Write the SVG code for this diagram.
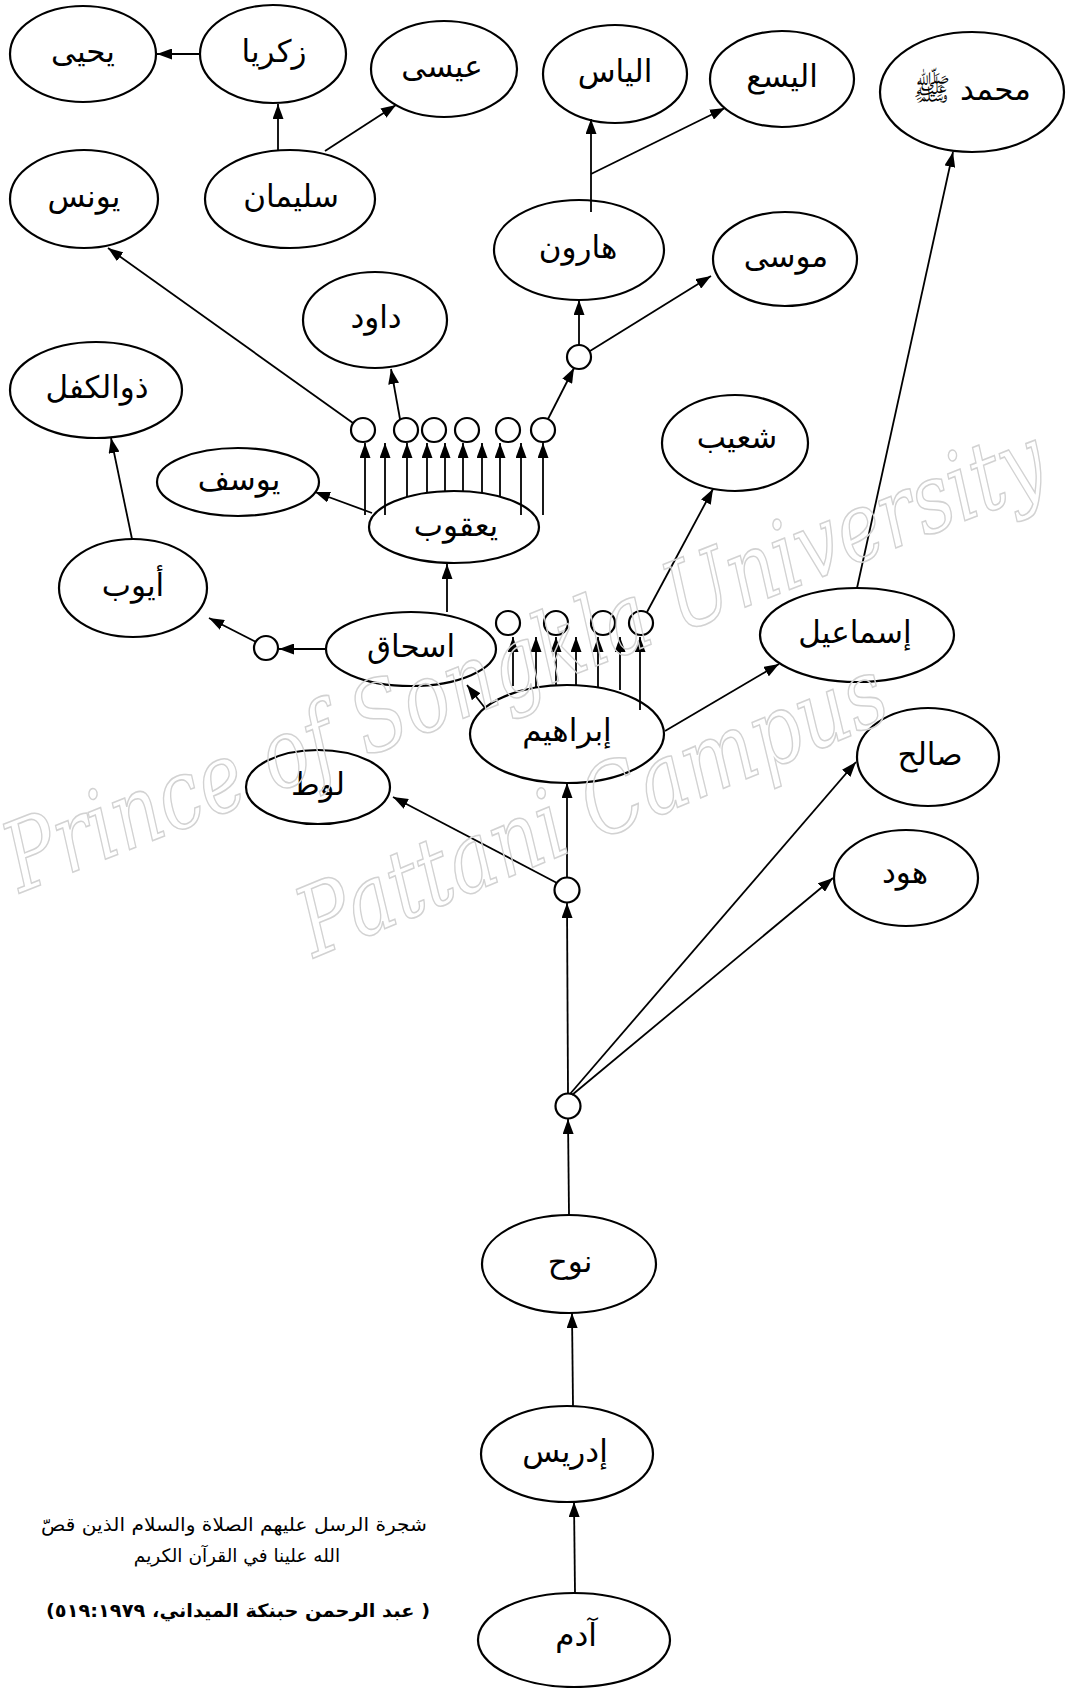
<svg xmlns="http://www.w3.org/2000/svg" width="1073" height="1688" viewBox="0 0 1073 1688">
<style>
  .bg{fill:#ffffff}
  .node ellipse{fill:#ffffff;stroke:#000;stroke-width:2.2}
  .node text{font-family:"DejaVu Sans",sans-serif;font-size:31px;text-anchor:middle;fill:#000}
  .dot circle{fill:#ffffff;stroke:#000;stroke-width:2.2}
  .edges line{stroke:#000;stroke-width:1.8;fill:none}
  .edges .a{marker-end:url(#arr)}
  .cap{font-family:"DejaVu Sans",sans-serif;font-size:18.5px;text-anchor:middle;fill:#000}
  .wm{font-family:"DejaVu Serif",serif;font-style:italic;font-size:96px;fill:none;stroke:#d2d2d2;stroke-width:1.6}
</style>
<defs>
  <marker id="arr" markerUnits="userSpaceOnUse" markerWidth="15" markerHeight="11" refX="15" refY="5.5" orient="auto">
    <path d="M0,0 L15,5.5 L0,11 Z" fill="#000"/>
  </marker>
</defs>
<rect class="bg" x="0" y="0" width="1073" height="1688"/>

<g id="nodes">
  <g id="yahya" class="node"><ellipse cx="83" cy="54" rx="73" ry="48"/><text x="83" y="62">يحيى</text></g>
  <g id="zakariya" class="node"><ellipse cx="273" cy="54" rx="73" ry="49"/><text x="274" y="62">زكريا</text></g>
  <g id="isa" class="node"><ellipse cx="444" cy="69" rx="73" ry="48"/><text x="442" y="77">عيسى</text></g>
  <g id="ilyas" class="node"><ellipse cx="615" cy="74" rx="72" ry="49"/><text x="615" y="82">الياس</text></g>
  <g id="alyasa" class="node"><ellipse cx="782" cy="79" rx="72" ry="48"/><text x="782" y="87">اليسع</text></g>
  <g id="muhammad" class="node"><ellipse cx="972" cy="92" rx="92" ry="60"/><text x="972" y="100">محمد ﷺ</text></g>
  <g id="yunus" class="node"><ellipse cx="84" cy="199" rx="74" ry="49"/><text x="84" y="207">يونس</text></g>
  <g id="sulayman" class="node"><ellipse cx="290" cy="199" rx="85" ry="49"/><text x="291" y="207">سليمان</text></g>
  <g id="harun" class="node"><ellipse cx="579" cy="250" rx="85" ry="50"/><text x="578" y="258">هارون</text></g>
  <g id="musa" class="node"><ellipse cx="785" cy="259" rx="72" ry="47"/><text x="786" y="267">موسى</text></g>
  <g id="dawud" class="node"><ellipse cx="375" cy="320" rx="72" ry="48"/><text x="376" y="328">داود</text></g>
  <g id="dhulkifl" class="node"><ellipse cx="96" cy="390" rx="86" ry="48"/><text x="97" y="398">ذوالكفل</text></g>
  <g id="yusuf" class="node"><ellipse cx="238" cy="482" rx="81" ry="34"/><text x="239" y="490">يوسف</text></g>
  <g id="yaqub" class="node"><ellipse cx="454" cy="527" rx="85" ry="36"/><text x="456" y="536">يعقوب</text></g>
  <g id="shuayb" class="node"><ellipse cx="735" cy="443" rx="73" ry="48"/><text x="737" y="448">شعيب</text></g>
  <g id="ayyub" class="node"><ellipse cx="133" cy="588" rx="74" ry="49"/><text x="133" y="596">أيوب</text></g>
  <g id="ishaq" class="node"><ellipse cx="411" cy="649" rx="85" ry="37"/><text x="411" y="657">اسحاق</text></g>
  <g id="ismail" class="node"><ellipse cx="857" cy="635" rx="97" ry="47"/><text x="855" y="643">إسماعيل</text></g>
  <g id="ibrahim" class="node"><ellipse cx="567" cy="734" rx="97" ry="49"/><text x="567" y="741">إبراهيم</text></g>
  <g id="salih" class="node"><ellipse cx="928" cy="757" rx="71" ry="49"/><text x="930" y="765">صالح</text></g>
  <g id="lut" class="node"><ellipse cx="318" cy="787" rx="72" ry="37"/><text x="318" y="795">لوط</text></g>
  <g id="hud" class="node"><ellipse cx="906" cy="878" rx="72" ry="48"/><text x="905" y="883">هود</text></g>
  <g id="nuh" class="node"><ellipse cx="569" cy="1264" rx="87" ry="49"/><text x="570" y="1272">نوح</text></g>
  <g id="idris" class="node"><ellipse cx="567" cy="1454" rx="86" ry="48"/><text x="565" y="1462">إدريس</text></g>
  <g id="adam" class="node"><ellipse cx="574" cy="1640" rx="96" ry="47"/><text x="576" y="1646">آدم</text></g>

  <g id="j-harun" class="dot"><circle cx="579" cy="357" r="12"/></g>
  <g id="j-yaqub-1" class="dot"><circle cx="363" cy="430" r="12"/></g>
  <g id="j-yaqub-2" class="dot"><circle cx="406" cy="430" r="12"/></g>
  <g id="j-yaqub-3" class="dot"><circle cx="434" cy="430" r="12"/></g>
  <g id="j-yaqub-4" class="dot"><circle cx="467" cy="430" r="12"/></g>
  <g id="j-yaqub-5" class="dot"><circle cx="508" cy="430" r="12"/></g>
  <g id="j-yaqub-6" class="dot"><circle cx="543" cy="430" r="12"/></g>
  <g id="j-ibrahim-1" class="dot"><circle cx="508" cy="623" r="12"/></g>
  <g id="j-ibrahim-2" class="dot"><circle cx="556" cy="623" r="12"/></g>
  <g id="j-ibrahim-3" class="dot"><circle cx="603" cy="623" r="12"/></g>
  <g id="j-ibrahim-4" class="dot"><circle cx="641" cy="623" r="12"/></g>
  <g id="j-ishaq" class="dot"><circle cx="266" cy="648" r="12"/></g>
  <g id="j-lut" class="dot"><circle cx="567" cy="890" r="12.5"/></g>
  <g id="j-nuh" class="dot"><circle cx="568" cy="1106" r="12.5"/></g>
</g>

<g id="connectors" class="edges">
  <line class="a" x1="200" y1="54" x2="157" y2="54"/>
  <line class="a" x1="278" y1="150" x2="278" y2="104"/>
  <line class="a" x1="325" y1="151" x2="396" y2="105"/>
  <line class="a" x1="353" y1="423" x2="108" y2="248"/>
  <line class="a" x1="400" y1="419" x2="391" y2="369"/>
  <line class="a" x1="548" y1="419" x2="574" y2="368"/>
  <line class="a" x1="579" y1="345" x2="579" y2="300"/>
  <line class="a" x1="590" y1="351" x2="711" y2="276"/>
  <line class="a" x1="591" y1="212" x2="591" y2="119"/>
  <line class="a" x1="591" y1="174" x2="725" y2="108"/>
  <line class="a" x1="857" y1="588" x2="953" y2="152"/>

  <line class="a" x1="365" y1="515" x2="365" y2="443"/>
  <line class="a" x1="385" y1="515" x2="385" y2="443"/>
  <line class="a" x1="407" y1="497" x2="407" y2="443"/>
  <line class="a" x1="427" y1="493" x2="427" y2="443"/>
  <line class="a" x1="445" y1="491" x2="445" y2="443"/>
  <line class="a" x1="463" y1="491" x2="463" y2="443"/>
  <line class="a" x1="482" y1="493" x2="482" y2="443"/>
  <line class="a" x1="500" y1="497" x2="500" y2="443"/>
  <line class="a" x1="521" y1="515" x2="521" y2="443"/>
  <line class="a" x1="543" y1="515" x2="543" y2="443"/>

  <line class="a" x1="372" y1="513" x2="315" y2="492"/>
  <line class="a" x1="447" y1="612" x2="447" y2="564"/>
  <line class="a" x1="326" y1="649" x2="279" y2="649"/>
  <line class="a" x1="256" y1="642" x2="209" y2="618"/>
  <line class="a" x1="132" y1="539" x2="111" y2="438"/>

  <line class="a" x1="513" y1="686" x2="513" y2="637"/>
  <line class="a" x1="536" y1="688" x2="536" y2="637"/>
  <line class="a" x1="556" y1="685" x2="556" y2="637"/>
  <line class="a" x1="576" y1="685" x2="576" y2="637"/>
  <line class="a" x1="598" y1="688" x2="598" y2="637"/>
  <line class="a" x1="620" y1="690" x2="620" y2="637"/>
  <line class="a" x1="640" y1="710" x2="640" y2="637"/>

  <line class="a" x1="647" y1="612" x2="713" y2="489"/>
  <line class="a" x1="485" y1="708" x2="467" y2="685"/>
  <line class="a" x1="665" y1="731" x2="779" y2="664"/>

  <line class="a" x1="567" y1="877" x2="567" y2="783"/>
  <line class="a" x1="557" y1="883" x2="393" y2="797"/>
  <line class="a" x1="568" y1="1093" x2="567" y2="903"/>
  <line class="a" x1="570" y1="1094" x2="856" y2="762"/>
  <line class="a" x1="572" y1="1095" x2="833" y2="878"/>
  <line class="a" x1="569" y1="1215" x2="568" y2="1119"/>
  <line class="a" x1="573" y1="1406" x2="572" y2="1313"/>
  <line class="a" x1="575" y1="1593" x2="574" y2="1502"/>
</g>

<g id="caption">
  <text class="cap" x="234" y="1531" direction="rtl" textLength="386" lengthAdjust="spacingAndGlyphs">شجرة الرسل عليهم الصلاة والسلام الذين قصّ</text>
  <text class="cap" x="237" y="1562" direction="rtl">الله علينا في القرآن الكريم</text>
  <text class="cap" x="238" y="1617" direction="rtl" font-weight="bold" textLength="384" lengthAdjust="spacingAndGlyphs">( عبد الرحمن حبنكة الميداني، ٥١٩:١٩٧٩)</text>
</g>

<g id="watermark">
  <text class="wm" transform="translate(20,893) rotate(-21.5)" textLength="1110" lengthAdjust="spacingAndGlyphs">Prince of Songkla University</text>
  <text class="wm" transform="translate(314,958) rotate(-22.5)" textLength="628" lengthAdjust="spacingAndGlyphs">Pattani Campus</text>
</g>
</svg>
